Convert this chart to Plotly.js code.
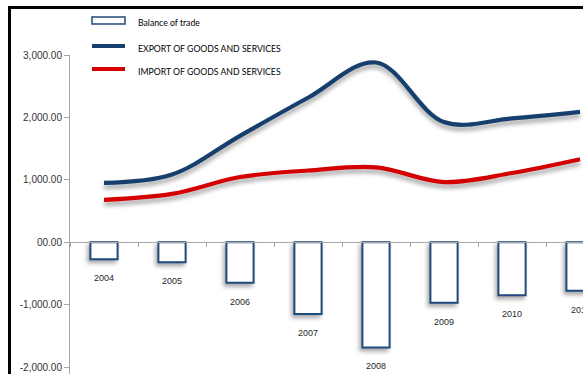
<!DOCTYPE html>
<html>
<head>
<meta charset="utf-8">
<script src="https://cdn.plot.ly/plotly-3.0.1.min.js"></script>
<style>
  html, body { margin: 0; padding: 0; background: #fff; }
  #wrap { position: relative; width: 583px; height: 374px; overflow: hidden; }
  #chart { position: absolute; left: 0; top: 0; width: 583px; height: 374px; }
  #frame { position: absolute; left: 8px; top: 6px; width: 700px; height: 500px;
           border-top: 3px solid #000; border-left: 3px solid #000; pointer-events: none; }
  .scatterlayer .js-line { filter: drop-shadow(0px 4px 2px rgba(0,0,0,0.35)); }
  .barlayer .point path { filter: drop-shadow(-2px 3px 2px rgba(0,0,0,0.35)); }
</style>
</head>
<body>
<div id="wrap">
  <div id="chart"></div>
  <div id="frame"></div>
</div>
<script>
const years = ['2004', '2005', '2006', '2007', '2008', '2009', '2010', '2011'];
const exportValues = [950, 1085, 1705, 2315, 2880, 1925, 1985, 2090];
const importValues = [680, 775, 1045, 1150, 1200, 965, 1110, 1330];
const balanceValues = [-270, -320, -650, -1150, -1685, -970, -850, -776];
const yTickVals = [3000, 2000, 1000, 0, -1000, -2000];
const yTickText = ['3,000.00', '2,000.00', '1,000.00', '00.00', '-1,000.00', '-2,000.00'];

const navy = '#173f6e';
const red = '#d40000';
const yRange = [-2110, 3000];

const traces = [
  {
    type: 'bar', x: years, y: balanceValues, name: 'Balance of trade',
    width: 0.4,
    marker: { color: '#ffffff', line: { color: '#1f4a7c', width: 2 } },
    hoverinfo: 'x+y'
  },
  {
    type: 'scatter', mode: 'lines', x: years, y: exportValues,
    name: 'EXPORT OF GOODS AND SERVICES',
    line: { color: navy, width: 4.2, shape: 'spline', smoothing: 1 }
  },
  {
    type: 'scatter', mode: 'lines', x: years, y: importValues,
    name: 'IMPORT OF GOODS AND SERVICES',
    line: { color: red, width: 4.2, shape: 'spline', smoothing: 1 }
  }
];

// year data labels under each bar (x given as category index)
const annotations = years.map((yr, i) => ({
  x: i, y: balanceValues[i], xref: 'x', yref: 'y',
  text: yr, showarrow: false, xanchor: 'center', yanchor: 'middle', yshift: -19,
  font: { family: 'Liberation Sans, Arial, sans-serif', size: 9, color: '#1f1f1f' }
}));

// custom legend (pixel positions converted to paper coords)
const L = 70, T = 55, W = 513, H = 319;
const px = v => (v - L) / W;
const py = v => (T + H - v) / H;
const legendItems = [
  { label: 'Balance of trade', cy: 21, kind: 'box', color: '#1f4a7c' },
  { label: 'EXPORT OF GOODS AND SERVICES', cy: 46, kind: 'line', color: navy },
  { label: 'IMPORT OF GOODS AND SERVICES', cy: 69, kind: 'line', color: red }
];
const shapes = [];
legendItems.forEach(it => {
  if (it.kind === 'box') {
    shapes.push({ type: 'rect', xref: 'paper', yref: 'paper',
      x0: px(92), x1: px(125), y0: py(it.cy - 4), y1: py(it.cy + 3),
      line: { color: it.color, width: 1.5 }, fillcolor: '#fff' });
  } else {
    shapes.push({ type: 'line', xref: 'paper', yref: 'paper',
      x0: px(92), x1: px(125), y0: py(it.cy), y1: py(it.cy),
      line: { color: it.color, width: 4 } });
  }
  annotations.push({ xref: 'paper', yref: 'paper', x: px(136), y: py(it.cy + 2),
    xanchor: 'left', yanchor: 'middle', showarrow: false, text: it.label,
    font: { family: 'Lato, Liberation Sans, sans-serif', size: 8.7, color: '#000' } });
});

const layout = {
  width: 583, height: 374,
  margin: { l: L, r: 0, t: T, b: 0, pad: 0 },
  paper_bgcolor: 'rgba(0,0,0,0)', plot_bgcolor: 'rgba(0,0,0,0)',
  showlegend: false,
  bargap: 0.6,
  xaxis: {
    type: 'category', range: [-0.5, 7.044],
    showgrid: false, zeroline: false,
    showline: true, linecolor: '#a6a6a6', linewidth: 1,
    ticks: 'outside', tickson: 'boundaries', ticklen: 4, tickcolor: '#a6a6a6',
    showticklabels: false,
    anchor: 'free', position: (0 - yRange[0]) / (yRange[1] - yRange[0])
  },
  yaxis: {
    range: yRange, tickmode: 'array', tickvals: yTickVals, ticktext: yTickText,
    showgrid: false, zeroline: false,
    showline: true, linecolor: '#a6a6a6', linewidth: 1,
    ticks: 'outside', ticklen: 5, tickcolor: '#a6a6a6',
    tickfont: { family: 'Liberation Sans, Arial, sans-serif', size: 10, color: '#333' }
  },
  shapes: shapes,
  annotations: annotations
};

Plotly.newPlot('chart', traces, layout, { displayModeBar: false, staticPlot: true });
</script>
</body>
</html>
